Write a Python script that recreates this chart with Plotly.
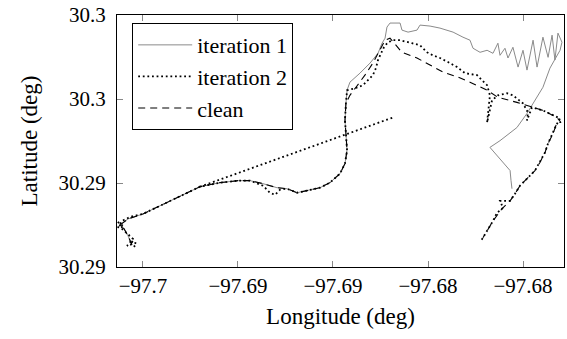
import plotly.graph_objects as go

# ---- data (longitude / latitude in degrees) ----
# shared lower part of the route (start -> up the "hill")
lower_lon = [-97.70058, -97.70079, -97.70100, -97.70121, -97.70079, -97.70000, -97.69911,
             -97.69821, -97.69700, -97.69595, -97.69500, -97.69437, -97.69368, -97.69295,
             -97.69242, -97.69189, -97.69137, -97.69068, -97.69016, -97.68963, -97.68937,
             -97.68926, -97.68932, -97.68937, -97.68932]
lower_lat = [30.29316, 30.29343, 30.29364, 30.29375, 30.29393, 30.29408, 30.29432,
             30.29456, 30.29489, 30.29501, 30.29507, 30.29507, 30.29498, 30.29486,
             30.29483, 30.29471, 30.29477, 30.29486, 30.29501, 30.29528, 30.29558,
             30.29597, 30.29647, 30.29686, 30.29737]

# iteration 1 (continues after the shared lower part)
it1_lon = [-97.68926, -97.68911, -97.68858, -97.68805, -97.68763, -97.68742, -97.68726,
           -97.68716, -97.68700, -97.68647, -97.68637, -97.68605, -97.68558, -97.68542,
           -97.68489, -97.68437, -97.68368, -97.68316, -97.68279, -97.68263, -97.68226,
           -97.68189, -97.68158, -97.68132, -97.68121, -97.68095, -97.68079, -97.68053,
           -97.68026, -97.68000, -97.67979, -97.67947, -97.67926, -97.67895, -97.67868,
           -97.67847, -97.67832, -97.67816, -97.67795, -97.67805, -97.67858, -97.67895,
           -97.67979, -97.68032, -97.68121, -97.68174, -97.68121, -97.68068, -97.68063,
           -97.68058]
it1_lat = [30.29776, 30.29800, 30.29827, 30.29857, 30.29886, 30.29916, 30.29931,
           30.29964, 30.29976, 30.29976, 30.29955, 30.29949, 30.29955, 30.29970,
           30.29967, 30.29961, 30.29949, 30.29934, 30.29925, 30.29901, 30.29889,
           30.29895, 30.29886, 30.29916, 30.29880, 30.29901, 30.29872, 30.29904,
           30.29845, 30.29895, 30.29836, 30.29925, 30.29845, 30.29934, 30.29874,
           30.29940, 30.29866, 30.29946, 30.29919, 30.29895, 30.29842, 30.29785,
           30.29707, 30.29665, 30.29626, 30.29606, 30.29573, 30.29537, 30.29507,
           30.29483]

# iteration 2: start cluster, outlier jump, climb, upper leg, descent
it2_start_lon = [-97.70042, -97.70068, -97.70037, -97.70084, -97.70053, -97.70089, -97.70111,
                 -97.70132, -97.70100, -97.70132, -97.70111, -97.70068]
it2_start_lat = [30.29310, 30.29328, 30.29322, 30.29313, 30.29334, 30.29352, 30.29364,
                 30.29384, 30.29370, 30.29367, 30.29387, 30.29399]
it2_mid_lon = [-97.70000, -97.69911, -97.69821, -97.69700, -97.69595, -97.69500, -97.69437,
               -97.69368, -97.69332, -97.69305, -97.69279, -97.69242, -97.69189, -97.69137,
               -97.69068, -97.69016, -97.68963, -97.68937, -97.68926, -97.68932, -97.68937,
               -97.68932, -97.68926]
it2_mid_lat = [30.29408, 30.29432, 30.29456, 30.29489, 30.29501, 30.29507, 30.29507,
               30.29492, 30.29471, 30.29465, 30.29480, 30.29483, 30.29471, 30.29477,
               30.29486, 30.29501, 30.29528, 30.29558, 30.29597, 30.29647, 30.29686,
               30.29737, 30.29776]
it2_up_lon = [-97.68884, -97.68842, -97.68816, -97.68790, -97.68774, -97.68763, -97.68747,
              -97.68732, -97.68711, -97.68684, -97.68647, -97.68611, -97.68584, -97.68542,
              -97.68505, -97.68474, -97.68437, -97.68395, -97.68347, -97.68305, -97.68242,
              -97.68216, -97.68189, -97.68174, -97.68184, -97.68189, -97.68163, -97.68132,
              -97.68084, -97.68053, -97.68000, -97.67974, -97.67979, -97.67953, -97.67895,
              -97.67842, -97.67805, -97.67826]
it2_up_lat = [30.29782, 30.29791, 30.29806, 30.29821, 30.29842, 30.29866, 30.29886,
              30.29904, 30.29919, 30.29925, 30.29925, 30.29919, 30.29916, 30.29910,
              30.29889, 30.29880, 30.29872, 30.29860, 30.29845, 30.29827, 30.29821,
              30.29806, 30.29791, 30.29761, 30.29716, 30.29680, 30.29746, 30.29761,
              30.29767, 30.29761, 30.29737, 30.29710, 30.29686, 30.29725, 30.29716,
              30.29701, 30.29692, 30.29671]
it2_down_lon = [-97.67847, -97.67868, -97.67884, -97.67911, -97.67937, -97.67979, -97.68016,
                -97.68042, -97.68068, -97.68121, -97.68105, -97.68137, -97.68158, -97.68195,
                -97.68221]
it2_down_lat = [30.29647, 30.29618, 30.29591, 30.29561, 30.29537, 30.29513, 30.29492,
                30.29468, 30.29447, 30.29447, 30.29426, 30.29411, 30.29387, 30.29352,
                30.29328]
it2_jump_lon = [-97.69700, -97.68684]
it2_jump_lat = [30.29489, 30.29695]

# clean (continues after the shared lower part)
clean_lon = [-97.68911, -97.68879, -97.68832, -97.68790, -97.68753, -97.68726, -97.68700,
             -97.68668, -97.68637, -97.68558, -97.68489, -97.68421, -97.68342, -97.68279,
             -97.68189, -97.68132, -97.68032, -97.67979, -97.67895, -97.67821, -97.67800,
             -97.67821, -97.67842, -97.67868, -97.67884, -97.67911, -97.67937, -97.67979,
             -97.68016, -97.68042, -97.68068, -97.68111, -97.68158, -97.68195, -97.68211]
clean_lat = [30.29761, 30.29785, 30.29821, 30.29857, 30.29895, 30.29925, 30.29931,
             30.29910, 30.29889, 30.29872, 30.29851, 30.29830, 30.29815, 30.29800,
             30.29776, 30.29755, 30.29740, 30.29731, 30.29716, 30.29695, 30.29680,
             30.29680, 30.29647, 30.29618, 30.29591, 30.29561, 30.29537, 30.29513,
             30.29492, 30.29468, 30.29447, 30.29423, 30.29387, 30.29352, 30.29337]

x_tickvals = [-97.7, -97.695, -97.69, -97.685, -97.68]
x_ticktext = ["\u221297.7", "\u221297.69", "\u221297.69", "\u221297.68", "\u221297.68"]
y_tickvals = [30.2925, 30.295, 30.2975, 30.3]
y_ticktext = ["30.29", "30.29", "30.3", "30.3"]

FONT = "Liberation Serif"

fig = go.Figure()
fig.add_trace(go.Scatter(
    x=lower_lon + it1_lon, y=lower_lat + it1_lat, mode="lines", name="iteration 1",
    line=dict(color="#8a8a8a", width=1)))
fig.add_trace(go.Scatter(
    x=it2_jump_lon + [None] + it2_start_lon + it2_mid_lon + it2_up_lon + it2_down_lon,
    y=it2_jump_lat + [None] + it2_start_lat + it2_mid_lat + it2_up_lat + it2_down_lat,
    mode="lines", name="iteration 2", connectgaps=False,
    line=dict(color="black", width=1.8, dash="1.8px,2.8px")))
fig.add_trace(go.Scatter(
    x=lower_lon + clean_lon, y=lower_lat + clean_lat, mode="lines", name="clean",
    line=dict(color="black", width=1.1, dash="7px,5px")))

axis_common = dict(showline=True, linecolor="black", linewidth=1, mirror="ticks",
                   ticks="inside", ticklen=6, tickwidth=1, tickcolor="#888888",
                   showgrid=False, zeroline=False,
                   tickfont=dict(family=FONT, size=21, color="black"))

fig.update_xaxes(range=[-97.701368, -97.677842], tickvals=x_tickvals, ticktext=x_ticktext,
                 title=dict(text="Longitude (deg)", font=dict(family=FONT, size=23, color="black"),
                            standoff=10),
                 **axis_common)
fig.update_yaxes(range=[30.2925, 30.3], tickvals=y_tickvals, ticktext=y_ticktext,
                 ticklabelstandoff=6,
                 title=dict(text="Latitude (deg)", font=dict(family=FONT, size=23, color="black"),
                            standoff=14),
                 **axis_common)

fig.update_layout(
    width=567, height=339,
    margin=dict(l=117, r=3, t=15, b=72),
    paper_bgcolor="white", plot_bgcolor="white",
    showlegend=True,
    legend=dict(x=0.034, y=0.968, xanchor="left", yanchor="top",
                bgcolor="white", bordercolor="black", borderwidth=1,
                font=dict(family=FONT, size=22, color="black"),
                itemwidth=54, tracegroupgap=0),
)

fig.write_html("out.html")
